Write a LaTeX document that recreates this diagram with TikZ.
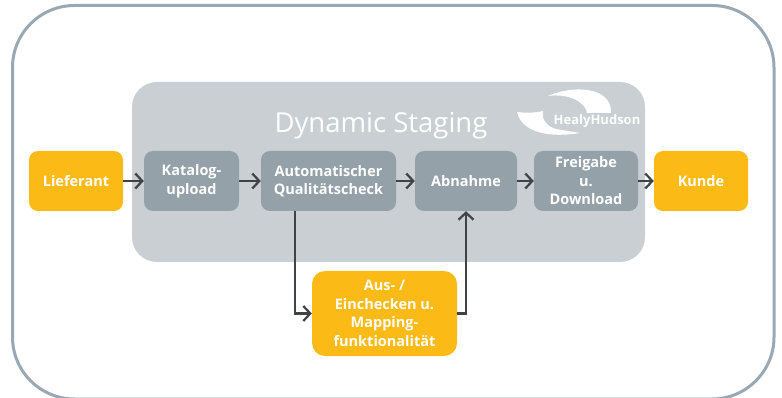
\documentclass[tikz,border=0pt]{standalone}
\usepackage{fontspec}
\setmainfont{Open Sans}
\usepackage{tikz}
\usetikzlibrary{arrows.meta,positioning,calc}
\definecolor{boxyellow}{HTML}{FBBA15}
\definecolor{boxgrey}{HTML}{94A1A8}
\definecolor{stagegrey}{HTML}{C9CFD3}
\definecolor{framegrey}{HTML}{9AA8B3}
\definecolor{linegrey}{HTML}{3F4347}
\tikzset{step box/.style={rounded corners=9pt,inner sep=0pt,align=center,text=white,
    font=\fontsize{14.5}{18.5}\selectfont\bfseries}}
\tikzset{yellowbox/.style={step box,fill=boxyellow}}
\tikzset{greybox/.style={step box,fill=boxgrey}}
\tikzset{flow/.style={->,linegrey,line width=2.2pt}}
\begin{document}
\begin{tikzpicture}[x=1pt,y=-1pt,>={Straight Barb[length=7pt,width=15pt,line width=2.2pt]}]
    \useasboundingbox (0,0) rectangle (782,398);
    \draw[framegrey,line width=3pt,rounded corners=62pt] (12.5,5.5) rectangle (774,399);
    \fill[stagegrey,rounded corners=25pt] (132,82) rectangle (645,262);
    \node[text=white,font=\fontsize{27.5}{30}\selectfont] (title) at (381,126) {Dynamic Staging};
    % logo
    \fill[white] (548,96) .. controls (572,85) and (612,86) .. (611,113) -- (587,113) .. controls (586,103) and (570,93) .. (548,96);
    \fill[white] (517,112) .. controls (525,113) and (535,113) .. (543,111) .. controls (541,120) and (548,127) .. (556,129) -- (580,133) .. controls (550,138) and (522,133) .. (517,112);
    \node[text=white,font=\fontsize{13}{14}\selectfont\bfseries,inner sep=0pt] (logo) at (597,121.5) {HealyHudson};
    % boxes
    \node[yellowbox,minimum width=94pt,minimum height=60pt] (lieferant) at (76,181) {Lieferant};
    \node[greybox,minimum width=95pt,minimum height=60pt] (katalog) at (191.5,181) {Katalog-\\upload};
    \node[greybox,minimum width=135pt,minimum height=60pt] (check) at (328.5,181) {Automatischer\\Qualitätscheck};
    \node[greybox,minimum width=102pt,minimum height=60pt] (abnahme) at (466,181) {Abnahme};
    \node[greybox,minimum width=104pt,minimum height=60pt] (freigabe) at (586,181) {Freigabe\\u.\\Download};
    \node[yellowbox,minimum width=94pt,minimum height=60pt] (kunde) at (701,181) {Kunde};
    \node[yellowbox,minimum width=145pt,minimum height=85pt,rounded corners=13pt] (mapping) at (384.5,313.5) {Aus- /\\Einchecken u.\\Mapping-\\funktionalität};
    \coordinate (down) at (295,211);
    % arrows
    \draw[flow] (lieferant) -- (katalog);
    \draw[flow] (katalog) -- (check);
    \draw[flow] (check) -- (abnahme);
    \draw[flow] (abnahme) -- (freigabe);
    \draw[flow] (freigabe) -- (kunde);
    \draw[flow] (down) |- (mapping);
    \draw[flow] (mapping) -| (abnahme);
\end{tikzpicture}
\end{document}
